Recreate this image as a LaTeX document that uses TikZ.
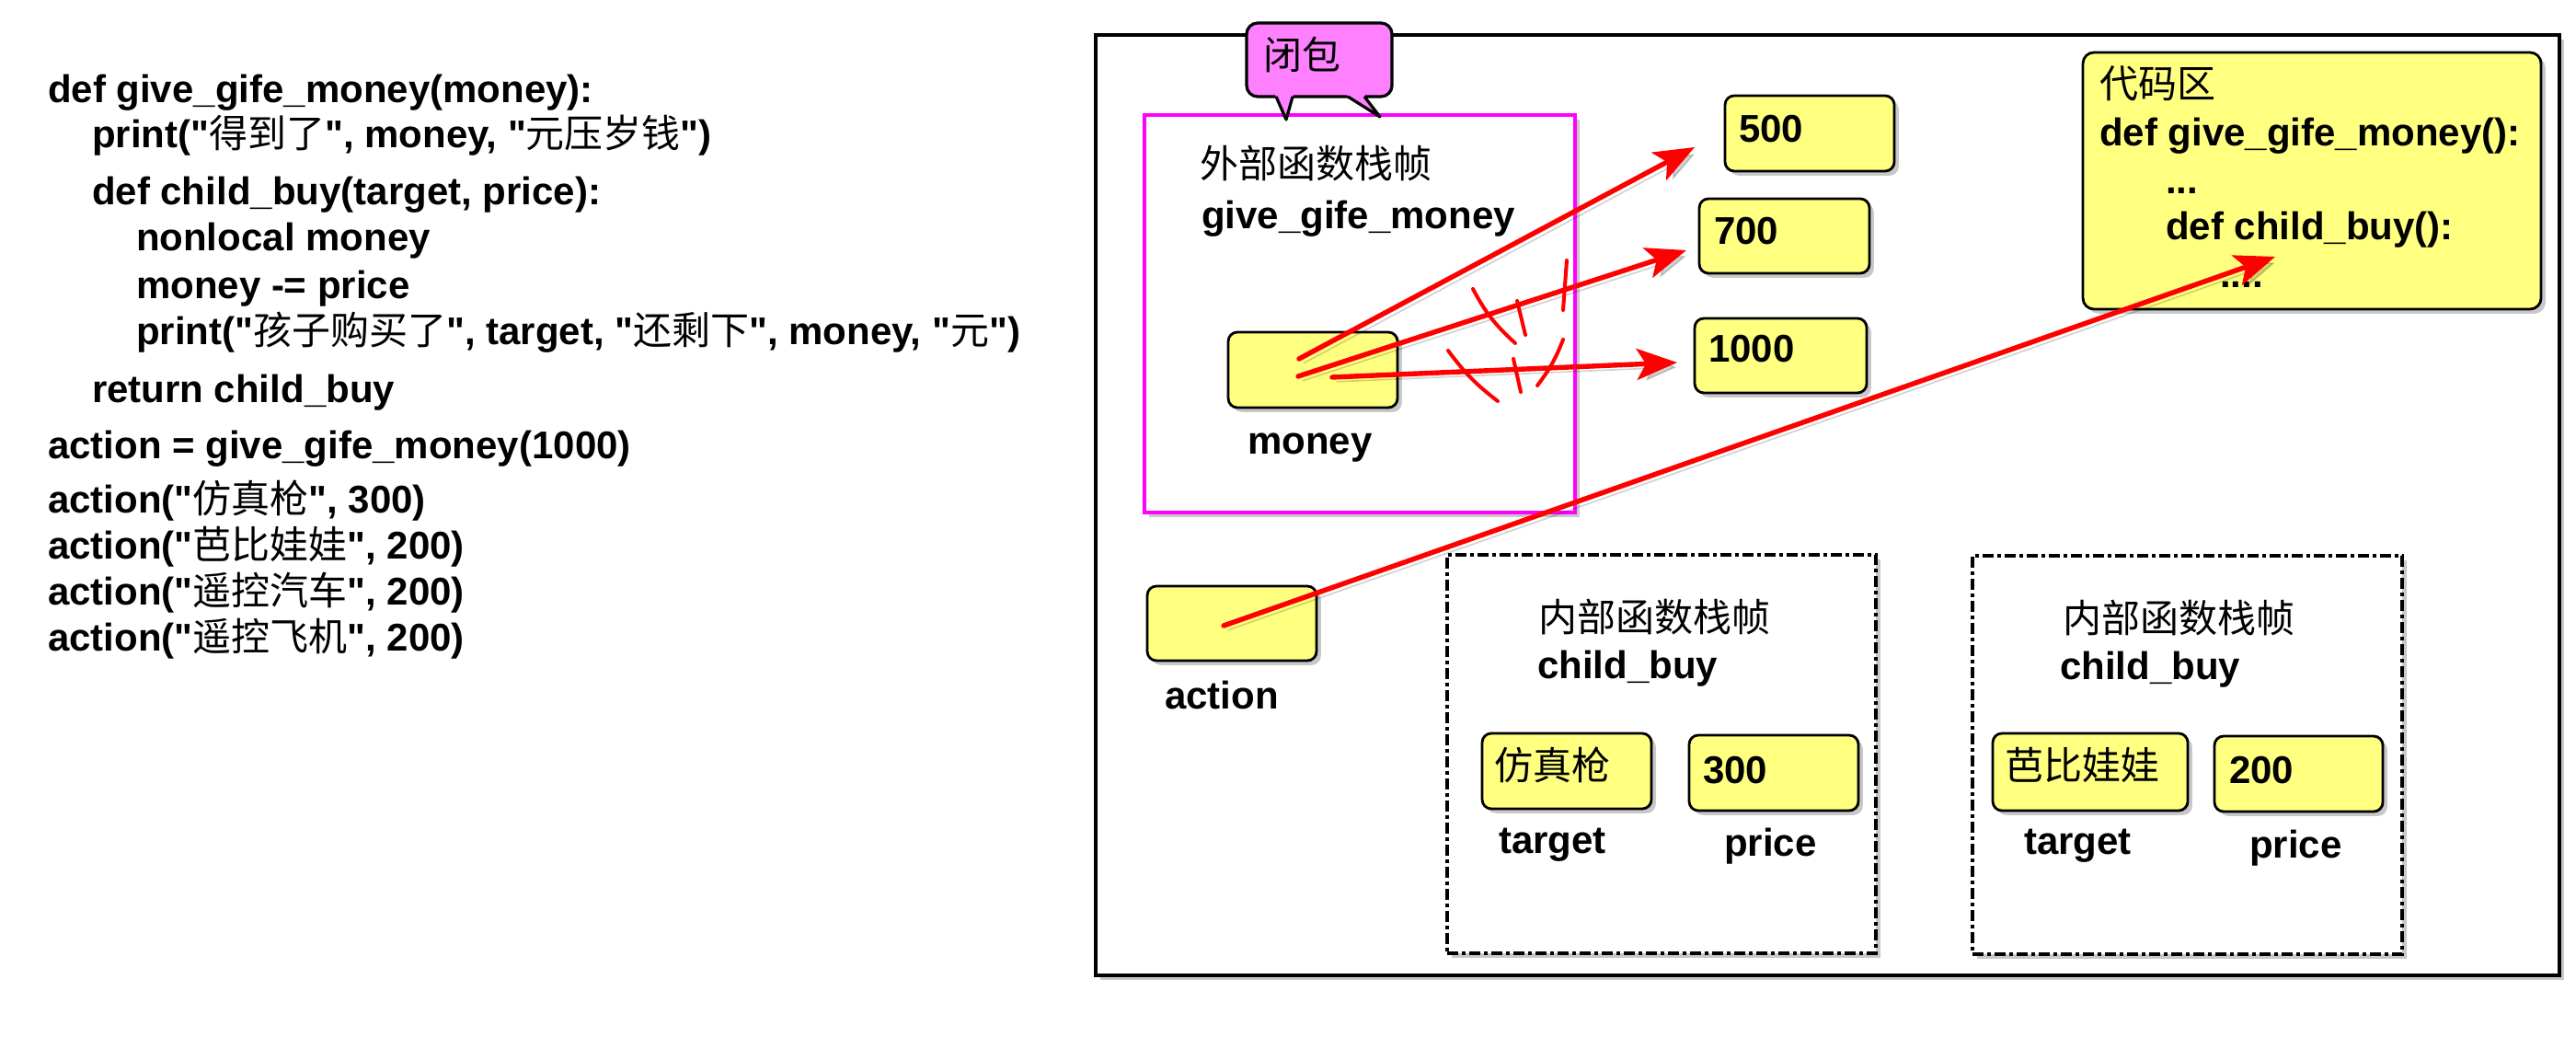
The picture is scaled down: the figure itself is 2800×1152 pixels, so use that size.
\documentclass[tikz,border=0pt]{standalone}
\usepackage{fontspec}
\setmainfont{Liberation Sans}[Ligatures=TeXOff]
\newfontfamily\zhfont{Noto Sans CJK SC}
\usetikzlibrary{arrows.meta,shadows}
\newcommand\zhtxt[1]{{\zhfont\mdseries #1}}
\definecolor{boxyellow}{RGB}{255,255,128}
\definecolor{calloutpink}{RGB}{255,128,255}
\definecolor{framemagenta}{RGB}{255,0,255}
\definecolor{arrowred}{RGB}{255,0,0}
\begin{document}
\begin{tikzpicture}[x=0.25pt,y=-0.25pt,
  every node/.style={font=\bfseries\fontsize{10.5pt}{12pt}\selectfont, inner sep=0pt, outer sep=0pt},
  txt/.style={anchor=base west},
  softshadow/.style={drop shadow={shadow xshift=1.2pt, shadow yshift=-1.2pt, opacity=0.3, fill=black!70}},
  vbox/.style={draw=black, line width=0.7pt, fill=boxyellow, rounded corners=2.5pt, softshadow},
  dashframe/.style={draw=black, line width=0.8pt, dash pattern=on 3pt off 1pt on 1pt off 1pt, fill=white, softshadow},
  redarrow/.style={draw=arrowred, line width=1.35pt, line cap=round,
    -{Stealth[length=11pt,width=8.5pt,inset=2.5pt]},
    preaction={draw=black, opacity=0.18, transform canvas={shift={(1.2pt,-1.2pt)}}}},
  strike/.style={draw=arrowred, line width=1pt, line cap=round}]
\useasboundingbox (0,0) rectangle (2800,1152);
\fill[white] (0,0) rectangle (2800,1152);

% ---- source code on the left ----
\node[txt] (c1) at (52,112) {def give\_gife\_money(money):};
\node[txt] (c2) at (100,161) {print("\zhtxt{得到了}", money, "\zhtxt{元压岁钱}")};
\node[txt] (c3) at (100,223) {def child\_buy(target, price):};
\node[txt] (c4) at (148,273) {nonlocal money};
\node[txt] (c5) at (148,325) {money -= price};
\node[txt] (c6) at (148,375) {print("\zhtxt{孩子购买了}", target, "\zhtxt{还剩下}", money, "\zhtxt{元}")};
\node[txt] (c7) at (100,438) {return child\_buy};
\node[txt] (c8) at (52,499) {action = give\_gife\_money(1000)};
\node[txt] (c9) at (52,558) {action("\zhtxt{仿真枪}", 300)};
\node[txt] (c10) at (52,608) {action("\zhtxt{芭比娃娃}", 200)};
\node[txt] (c11) at (52,658) {action("\zhtxt{遥控汽车}", 200)};
\node[txt] (c12) at (52,708) {action("\zhtxt{遥控飞机}", 200)};

% ---- memory frame ----
\node[draw=black, line width=1pt, fill=white, minimum width=397.75pt, minimum height=255.5pt, softshadow] (outer) at (1986.5,549) {};

% outer function frame
\node[draw=framemagenta, line width=1pt, fill=white, minimum width=117pt, minimum height=108pt, softshadow] (outerframe) at (1478,341) {};
\node[txt] (outerlbl) at (1304,194) {\zhtxt{外部函数栈帧}};
\node[txt] (outername) at (1306,249) {give\_gife\_money};
\node[vbox, minimum width=46pt, minimum height=20.5pt] (money) at (1427,402) {};
\node[txt] (moneylbl) at (1356,494) {money};

% callout
\node[draw=black, line width=0.8pt, fill=calloutpink, rounded corners=3pt, minimum width=39.5pt, minimum height=20pt] (closure) at (1434,65) {};
\fill[calloutpink] (1385,100) -- (1387,105) -- (1398,130) -- (1405,105) -- (1407,100) -- cycle;
\draw[line width=0.8pt, line join=round] (1387,105) -- (1398,130) -- (1405,105);
\fill[calloutpink] (1463,100) -- (1465,105) -- (1500,127) -- (1483,105) -- (1485,100) -- cycle;
\draw[line width=0.8pt, line join=round] (1465,105) -- (1500,127) -- (1483,105);
\node[txt] (closurelbl) at (1373,76) {\zhtxt{闭包}};

% values
\node[vbox, minimum width=46pt, minimum height=20.5pt] (n500) at (1967,145) {};
\node[txt] (n500lbl) at (1890,155) {500};
\node[vbox, minimum width=46.25pt, minimum height=20.25pt] (n700) at (1939.5,256.5) {};
\node[txt] (n700lbl) at (1863,266) {700};
\node[vbox, minimum width=46.75pt, minimum height=20.25pt] (n1000) at (1935.5,386.5) {};
\node[txt] (n1000lbl) at (1857,394) {1000};

% code area
\node[vbox, rounded corners=3pt, minimum width=124.5pt, minimum height=69.75pt] (code) at (2513,196.5) {};
\node[txt] (codez) at (2282,107) {\zhtxt{代码区}};
\node[txt] (coded1) at (2282,159) {def give\_gife\_money():};
\node[txt] (coded2) at (2354,211) {...};
\node[txt] (coded3) at (2354,261) {def child\_buy():};
\node[txt] (coded4) at (2413,313) {....};

% action variable
\node[vbox, minimum width=46pt, minimum height=20.25pt] (action) at (1339,677.5) {};
\node[txt] (actionlbl) at (1266,771) {action};

% inner frames
\node[dashframe, minimum width=116.5pt, minimum height=108.25pt] (inner1) at (1806,819.5) {};
\node[txt] (inner1lbl) at (1672,687) {\zhtxt{内部函数栈帧}};
\node[txt] (inner1name) at (1671,738) {child\_buy};
\node[vbox, minimum width=46pt, minimum height=20.5pt] (t1) at (1703,838) {};
\node[txt] (t1txt) at (1624,847) {\zhtxt{仿真枪}};
\node[vbox, minimum width=46pt, minimum height=20.5pt] (p1) at (1928,840) {};
\node[txt] (p1txt) at (1851,851) {300};
\node[txt] (t1lbl) at (1629,927) {target};
\node[txt] (p1lbl) at (1874,930) {price};

\node[dashframe, minimum width=116.75pt, minimum height=108.25pt] (inner2) at (2377.5,820.5) {};
\node[txt] (inner2lbl) at (2242,688) {\zhtxt{内部函数栈帧}};
\node[txt] (inner2name) at (2239,739) {child\_buy};
\node[vbox, minimum width=53pt, minimum height=21pt] (t2) at (2272,839) {};
\node[txt] (t2txt) at (2179,847) {\zhtxt{芭比娃娃}};
\node[vbox, minimum width=45.75pt, minimum height=20.5pt] (p2) at (2498.5,841) {};
\node[txt] (p2txt) at (2423,851) {200};
\node[txt] (t2lbl) at (2200,928) {target};
\node[txt] (p2lbl) at (2445,932) {price};

% ---- arrows ----
\coordinate (ms1) at (1412,390);
\coordinate (ms2) at (1411,409);
\coordinate (ms3) at (1448,410);
\coordinate (e500) at (1842,160);
\coordinate (e700) at (1833,272);
\coordinate (e1000) at (1823,394);
\coordinate (as) at (1330,680);
\coordinate (ecode) at (2473,279);
\draw[redarrow] (ms1) -- (e500);
\draw[redarrow] (ms2) -- (e700);
\draw[redarrow] (ms3) -- (e1000);
\draw[redarrow] (as) -- (ecode);

% strike marks
\draw[strike] (1601,314) to[bend right=10] (1647,373);
\draw[strike] (1649,327) -- (1658,364);
\draw[strike] (1703,283) -- (1699,337);
\draw[strike] (1574,381) to[bend right=8] (1628,436);
\draw[strike] (1645,390) -- (1653,426);
\draw[strike] (1699,369) to[bend left=8] (1671,419);
\end{tikzpicture}
\end{document}
